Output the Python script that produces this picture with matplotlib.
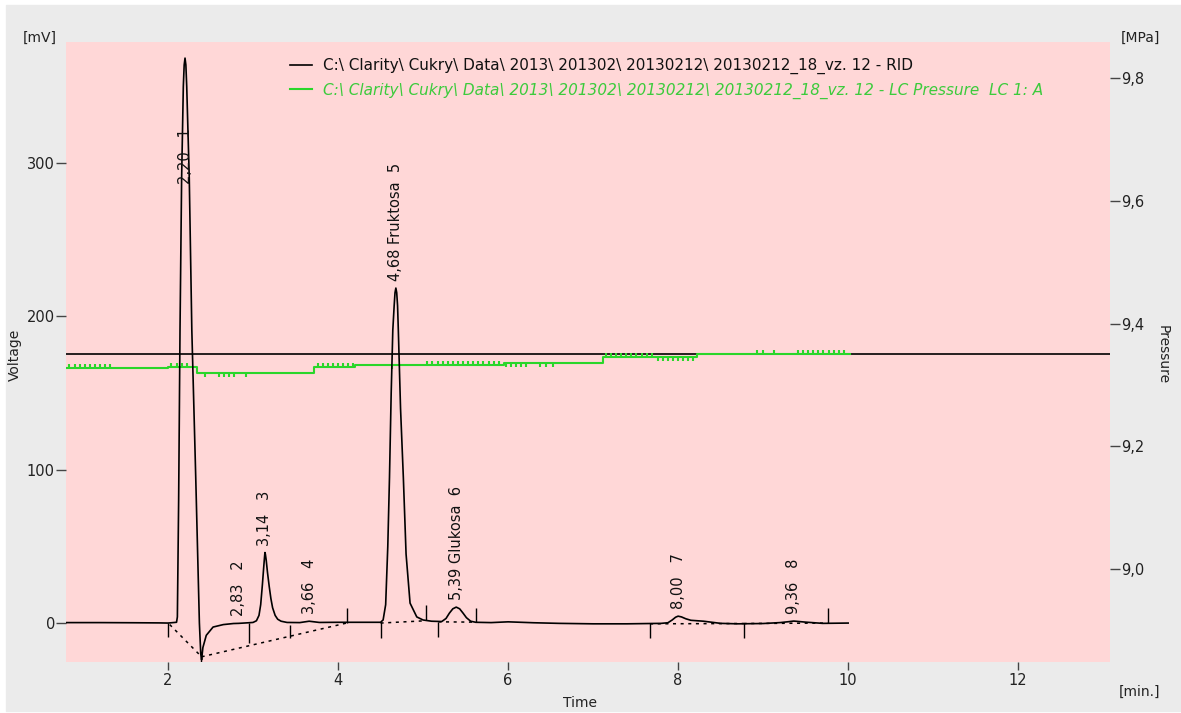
import numpy as np
import matplotlib
matplotlib.use("Agg")
import matplotlib.pyplot as plt
from matplotlib.patches import Rectangle
from matplotlib.lines import Line2D
from matplotlib.ticker import FixedLocator, FuncFormatter

plt.rcParams['font.family'] = ['DejaVu Sans']

# ---------------- data ----------------
# RID detector trace (time [min], signal [mV])
rid_time = [0.80, 1.20, 1.60, 1.90, 2.00, 2.10, 2.11, 2.125, 2.141, 2.16, 2.18, 2.19, 2.20,
            2.21, 2.22, 2.25, 2.28, 2.326, 2.369, 2.385, 2.395, 2.41, 2.45, 2.53, 2.65, 2.77,
            2.83, 2.95, 3.00, 3.04, 3.07, 3.09, 3.11, 3.125, 3.135, 3.14, 3.145, 3.155,
            3.17, 3.19, 3.21, 3.23, 3.26, 3.29, 3.33, 3.40, 3.55, 3.66, 3.78, 4.00, 4.30,
            4.50, 4.53, 4.56, 4.585, 4.605, 4.625, 4.644, 4.66, 4.67, 4.68, 4.69, 4.70,
            4.709, 4.735, 4.768, 4.80, 4.847, 4.926, 5.00, 5.10, 5.22, 5.27, 5.31, 5.35,
            5.39, 5.43, 5.47, 5.51, 5.56, 5.62, 5.80, 6.00, 6.30, 6.60, 7.00, 7.40, 7.80,
            7.88, 7.93, 7.97, 8.00, 8.04, 8.09, 8.15, 8.30, 8.40, 8.50, 8.70, 9.00, 9.20,
            9.30, 9.36, 9.42, 9.50, 9.70, 10.00]
rid_mv = [0.3, 0.3, 0.2, 0.1, 0.0, 0.5, 4.0, 80.0, 191.0, 290.0, 350.0, 364.0, 368.5,
          364.0, 350.0, 290.0, 191.0, 95.0, 0.0, -20.0, -24.0, -16.0, -8.0, -2.6, -1.0, -0.3,
          -0.2, 0.2, 0.4, 1.5, 5.0, 12.0, 25.0, 36.0, 43.0, 46.0, 45.0, 41.0,
          33.0, 24.0, 16.0, 10.0, 5.0, 2.5, 1.2, 0.4, 0.3, 1.2, 0.4, 0.5, 0.5,
          0.5, 2.0, 12.0, 50.0, 95.0, 150.0, 191.0, 207.0, 215.5, 218.5, 215.5, 207.0,
          191.0, 140.0, 95.0, 45.0, 13.0, 4.0, 2.0, 1.2, 1.0, 3.0, 6.5, 9.3,
          10.4, 9.3, 6.5, 3.5, 1.2, 0.5, 0.3, 0.8, 0.2, -0.2, -0.5, -0.5, -0.2,
          0.2, 2.0, 3.8, 4.5, 4.0, 2.8, 1.8, 1.2, 0.5, -0.2, -0.5, -0.3, 0.3,
          0.9, 1.3, 1.0, 0.6, -0.2, 0.0]

# peak table
peak_rt = [2.20, 2.83, 3.14, 3.66, 4.68, 5.39, 8.00, 9.36]
peak_no = [1, 2, 3, 4, 5, 6, 7, 8]
peak_name = ["", "", "", "", "Fruktosa", "Glukosa", "", ""]
peak_top_mv = [368.5, -0.2, 46.0, 1.2, 218.5, 10.4, 4.5, 1.3]

# integration baselines (start t, start mV, end t, end mV)
base_t0 = [2.02, 2.395, 4.50, 5.18, 7.67, 8.77]
base_v0 = [-1.0, -22.0, 0.0, 0.8, -0.5, -0.3]
base_t1 = [2.395, 4.10, 5.03, 5.62, 8.77, 9.76]
base_v1 = [-22.0, 0.0, 1.5, 0.6, -0.3, 0.0]

# peak boundary marks (time, lower mV, upper mV)
mark_t = [2.00, 2.39, 2.95, 3.44, 4.10, 4.50, 5.03, 5.18, 5.62, 7.67, 8.77, 9.76]
mark_lo = [-9.0, -26.0, -13.0, -10.0, 0.0, -10.0, 2.0, -9.0, 0.6, -10.0, -10.0, 0.0]
mark_hi = [0.0, -20.0, 0.0, -1.3, 10.0, 0.6, 12.0, 0.6, 10.0, 0.0, 0.0, 10.0]

# LC pressure trace: step levels
press_time = [0.80, 2.00, 2.34, 3.72, 4.20, 5.95, 7.12, 8.22, 10.02]
press_mpa = [9.327, 9.329, 9.320, 9.329, 9.332, 9.336, 9.345, 9.351, 9.351]
# small pump pulsations on the pressure trace
spike_up = [0.84, 0.90, 0.96, 1.02, 1.08, 1.14, 1.20, 1.26, 1.32,
            2.04, 2.10, 2.16, 2.22,
            3.76, 3.82, 3.88, 3.94, 4.00, 4.06, 4.12, 4.18,
            5.05, 5.11, 5.17, 5.23, 5.29, 5.35, 5.41, 5.47, 5.53, 5.59, 5.65, 5.71,
            5.77, 5.83, 5.89,
            7.15, 7.21, 7.27, 7.33, 7.39, 7.45, 7.51, 7.57, 7.63, 7.69,
            8.93, 9.00, 9.13,
            9.41, 9.47, 9.53, 9.59, 9.65, 9.71, 9.77, 9.83, 9.89, 9.95]
spike_down = [2.44, 2.60, 2.66, 2.72, 2.78, 2.92, 4.64,
              5.97, 6.03, 6.09, 6.15, 6.21, 6.38, 6.45, 6.53,
              7.76, 7.82, 7.88, 7.94, 8.00, 8.06, 8.12, 8.18]
press_ref_mpa = 9.351

x_ticks = [2, 4, 6, 8, 10, 12]
mv_ticks = [0, 100, 200, 300]
mpa_ticks = [9.0, 9.2, 9.4, 9.6, 9.8]

legend_rid = "C:\\ Clarity\\ Cukry\\ Data\\ 2013\\ 201302\\ 20130212\\ 20130212_18_vz. 12 - RID"
legend_p = "C:\\ Clarity\\ Cukry\\ Data\\ 2013\\ 201302\\ 20130212\\ 20130212_18_vz. 12 - LC Pressure  LC 1: A"

# ---------------- figure ----------------
W, H = 1181, 713
fig = plt.figure(figsize=(W / 100, H / 100), dpi=100)
fig.patch.set_facecolor('white')
fig.patches.append(Rectangle((6 / W, 1 - 711 / H), 1 - 6 / W, (711 - 5) / H,
                             transform=fig.transFigure, color='#EBEBEB', zorder=-10))

L, R, T, B = 66, 1110, 42, 662
ax2 = fig.add_axes([L / W, 1 - B / H, (R - L) / W, (B - T) / H])
ax = ax2.twinx()
ax2.set_facecolor('#FFD7D7')
ax.patch.set_visible(False)
ax.set_zorder(ax2.get_zorder() + 1)

ax.yaxis.set_ticks_position('left')
ax.yaxis.set_label_position('left')
ax2.yaxis.set_ticks_position('right')
ax2.yaxis.set_label_position('right')

for a in (ax, ax2):
    for s in a.spines.values():
        s.set_visible(False)

xlim = (0.8, 13.08)
ax.set_xlim(xlim)
ax2.set_xlim(xlim)
ax.set_ylim(-25.4, 379)
ax2.set_ylim(8.849, 9.8585)

green = '#2AD62A'

# pressure trace (on ax2, below RID)
ax2.axhline(press_ref_mpa, color='black', lw=1.2, zorder=1)
ax2.step(press_time, press_mpa, where='post', color=green, lw=1.5, zorder=2)
pt = np.array(press_time)
pm = np.array(press_mpa)
amp = 0.0065
up = np.array(spike_up)
dn = np.array(spike_down)
up_base = pm[np.searchsorted(pt, up, side='right') - 1]
dn_base = pm[np.searchsorted(pt, dn, side='right') - 1]
ax2.vlines(up, up_base, up_base + amp, color=green, lw=1.5, zorder=2)
ax2.vlines(dn, dn_base - amp, dn_base, color=green, lw=1.5, zorder=2)

# RID trace
ax.plot(rid_time, rid_mv, color='black', lw=1.2, zorder=3)
for t0, v0, t1, v1 in zip(base_t0, base_v0, base_t1, base_v1):
    ax.plot([t0, t1], [v0, v1], color='black', lw=1.1, ls=(0, (2, 3)), zorder=3)
ax.vlines(mark_t, mark_lo, mark_hi, color='black', lw=1.0, zorder=3)

ytop = ax.get_ylim()[1]
for rt, no, nm, top in zip(peak_rt, peak_no, peak_name, peak_top_mv):
    txt = f"{rt:.2f}".replace('.', ',')
    txt = txt + (" " + nm + "  " if nm else "   ") + str(no)
    if top > 0.75 * ytop:
        ax.text(rt, 0.755 * ytop, txt, rotation=90, ha='center', va='bottom',
                fontsize=10.5, color='#111111', zorder=4)
    else:
        ax.annotate(txt, (rt, max(top, 0)), xytext=(0, 5), textcoords='offset points',
                    rotation=90, ha='center', va='bottom', fontsize=10.5,
                    color='#111111', zorder=4)

# ticks
ax.xaxis.set_major_locator(FixedLocator(x_ticks))
ax2.xaxis.set_major_locator(FixedLocator(x_ticks))
ax.yaxis.set_major_locator(FixedLocator(mv_ticks))
ax2.yaxis.set_major_locator(FixedLocator(mpa_ticks))
ax2.yaxis.set_major_formatter(FuncFormatter(lambda v, p: f"{v:.1f}".replace('.', ',')))
ax.tick_params(axis='y', length=7, width=1, color='#444444', pad=1,
               labelsize=10.5, labelcolor='#222222')
ax2.tick_params(axis='y', length=7, width=1, color='#444444', pad=1,
                labelsize=10.5, labelcolor='#222222')
ax2.tick_params(axis='x', length=6, width=1, color='#444444', pad=2,
                labelsize=10.5, labelcolor='#222222')
ax.tick_params(axis='x', bottom=False, labelbottom=False, top=False, labeltop=False)

# axis titles
fig.text(40 / W, 1 - 38 / H, "[mV]", ha='center', va='center', fontsize=10, color='#222222')
fig.text(1140 / W, 1 - 38 / H, "[MPa]", ha='center', va='center', fontsize=10, color='#222222')
fig.text(15 / W, 1 - 355 / H, "Voltage", rotation=90, ha='center', va='center',
         fontsize=10, color='#222222')
fig.text(1163 / W, 1 - 355 / H, "Pressure", rotation=-90, ha='center', va='center',
         fontsize=10, color='#222222')
fig.text(580 / W, 1 - 703 / H, "Time", ha='center', va='center', fontsize=10, color='#222222')
fig.text(1140 / W, 1 - 692 / H, "[min.]", ha='center', va='center', fontsize=10, color='#222222')

# legend
h1 = Line2D([], [], color='black', lw=1.2)
h2 = Line2D([], [], color=green, lw=1.5)
leg = ax.legend([h1, h2], [legend_rid, legend_p], loc='upper left',
                bbox_to_anchor=(290 / W, 1 - 58 / H), bbox_transform=fig.transFigure,
                frameon=False, fontsize=11, handlelength=1.45, handletextpad=0.7,
                labelspacing=0.55, borderpad=0, borderaxespad=0)
leg.get_texts()[0].set_color('#111111')
leg.get_texts()[1].set_color('#3CCB3C')
leg.get_texts()[1].set_style('italic')

fig.savefig("out.png", dpi=100)
